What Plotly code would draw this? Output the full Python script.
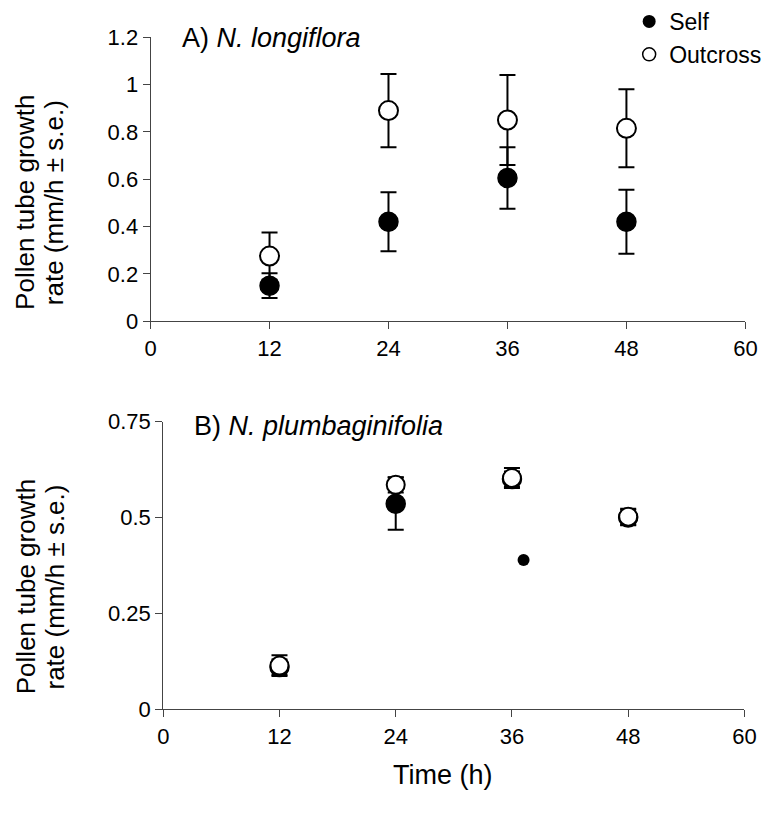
import plotly.graph_objects as go

W, H = 774, 816

# ---------------- data ----------------
times = [12, 24, 36, 48]

# Panel A: N. longiflora
self_A = [0.15, 0.42, 0.605, 0.42]
self_A_err = [0.052, 0.125, 0.13, 0.135]
out_A = [0.275, 0.89, 0.85, 0.815]
out_A_err = [0.10, 0.155, 0.19, 0.165]

# Panel B: N. plumbaginifolia
self_B = [0.11, 0.536, 0.60, 0.50]
self_B_err = [0.02, 0.068, 0.02, 0.02]
out_B = [0.114, 0.585, 0.603, 0.502]
out_B_err = [0.027, 0.02, 0.026, 0.021]
extra_B_x = [37.2]
extra_B_y = [0.389]

x_ticks = [0, 12, 24, 36, 48, 60]
yA_ticks = [0, 0.2, 0.4, 0.6, 0.8, 1.0, 1.2]
yA_labels = ["0", "0.2", "0.4", "0.6", "0.8", "1", "1.2"]
yB_ticks = [0, 0.25, 0.5, 0.75]
yB_labels = ["0", "0.25", "0.5", "0.75"]

FONT = "Arial, Liberation Sans, sans-serif"

fig = go.Figure()

def err(arr):
    return dict(type="data", array=arr, visible=True, color="black", thickness=2, width=8)

MS = 19

# Panel A
fig.add_trace(go.Scatter(x=times, y=self_A, mode="markers", name="Self",
                         error_y=err(self_A_err),
                         marker=dict(size=MS, color="black", line=dict(color="black", width=1.5)),
                         xaxis="x", yaxis="y", showlegend=False))
fig.add_trace(go.Scatter(x=times, y=out_A, mode="markers", name="Outcross",
                         error_y=err(out_A_err),
                         marker=dict(size=MS, color="white", line=dict(color="black", width=2)),
                         xaxis="x", yaxis="y", showlegend=False))

# Panel B
fig.add_trace(go.Scatter(x=times, y=self_B, mode="markers", name="Self",
                         error_y=err(self_B_err),
                         marker=dict(size=MS, color="black", line=dict(color="black", width=1.5)),
                         xaxis="x2", yaxis="y2", showlegend=False))
fig.add_trace(go.Scatter(x=extra_B_x, y=extra_B_y, mode="markers", name="Self",
                         marker=dict(size=12, color="black"),
                         xaxis="x2", yaxis="y2", showlegend=False))
fig.add_trace(go.Scatter(x=times, y=out_B, mode="markers", name="Outcross",
                         error_y=err(out_B_err),
                         marker=dict(size=MS - 1, color="white", line=dict(color="black", width=2)),
                         xaxis="x2", yaxis="y2", showlegend=False))

# Legend entries
fig.add_trace(go.Scatter(x=[None], y=[None], mode="markers", name="Self",
                         marker=dict(size=13, color="black"), xaxis="x", yaxis="y"))
fig.add_trace(go.Scatter(x=[None], y=[None], mode="markers", name="Outcross",
                         marker=dict(size=13, color="white", line=dict(color="black", width=1.5)),
                         xaxis="x", yaxis="y"))

def px_x(p):
    return p / W

def px_y(p):
    return 1 - p / H

axis_common = dict(showgrid=False, zeroline=False, showline=True, linecolor="#444", linewidth=1,
                   ticks="outside", ticklen=7, tickcolor="#444", tickwidth=1,
                   tickfont=dict(family=FONT, size=22, color="black"))

fig.update_layout(
    width=W, height=H,
    margin=dict(l=0, r=0, t=0, b=0),
    paper_bgcolor="white", plot_bgcolor="white",
    font=dict(family=FONT, color="black"),
    xaxis=dict(domain=[px_x(148), px_x(757)], range=[0, 60], tickvals=x_ticks,
               anchor="y", **axis_common),
    yaxis=dict(domain=[px_y(317), px_y(23)], range=[0, 1.2], tickvals=yA_ticks,
               ticktext=yA_labels, anchor="x", **axis_common),
    xaxis2=dict(domain=[px_x(161), px_x(756)], range=[0, 60], tickvals=x_ticks,
                anchor="y2", **axis_common),
    yaxis2=dict(domain=[px_y(719), px_y(421)], range=[0, 0.75], tickvals=yB_ticks,
                ticktext=yB_labels, anchor="x2", **axis_common),
    legend=dict(x=px_x(638), y=px_y(-16), xanchor="left", yanchor="top",
                bgcolor="rgba(0,0,0,0)", font=dict(family=FONT, size=23, color="black"),
                itemwidth=30, tracegroupgap=0),
    showlegend=True,
)

TITLE_SIZE = 27
YT_SIZE = 26

annotations = [
    dict(text="A) <i>N. longiflora</i>", x=px_x(178), y=px_y(24), xref="paper", yref="paper",
         xanchor="left", yanchor="middle", showarrow=False,
         font=dict(family=FONT, size=TITLE_SIZE, color="black")),
    dict(text="B) <i>N. plumbaginifolia</i>", x=px_x(190), y=px_y(426), xref="paper", yref="paper",
         xanchor="left", yanchor="middle", showarrow=False,
         font=dict(family=FONT, size=TITLE_SIZE, color="black")),
    dict(text="Time (h)", x=px_x(447), y=px_y(787), xref="paper", yref="paper",
         xanchor="center", yanchor="middle", showarrow=False,
         font=dict(family=FONT, size=27, color="black")),
]

# two-line y-axis titles for both panels
for cy in (194, 592):
    annotations.append(dict(text="Pollen tube growth", x=px_x(20), y=px_y(cy), xref="paper",
                            yref="paper", xanchor="center", yanchor="middle", textangle=-90,
                            showarrow=False, font=dict(family=FONT, size=YT_SIZE, color="black")))
    annotations.append(dict(text="rate (mm/h ± s.e.)", x=px_x(50), y=px_y(cy), xref="paper",
                            yref="paper", xanchor="center", yanchor="middle", textangle=-90,
                            showarrow=False, font=dict(family=FONT, size=YT_SIZE, color="black")))

fig.update_layout(annotations=annotations)

fig.write_html("out.html")
